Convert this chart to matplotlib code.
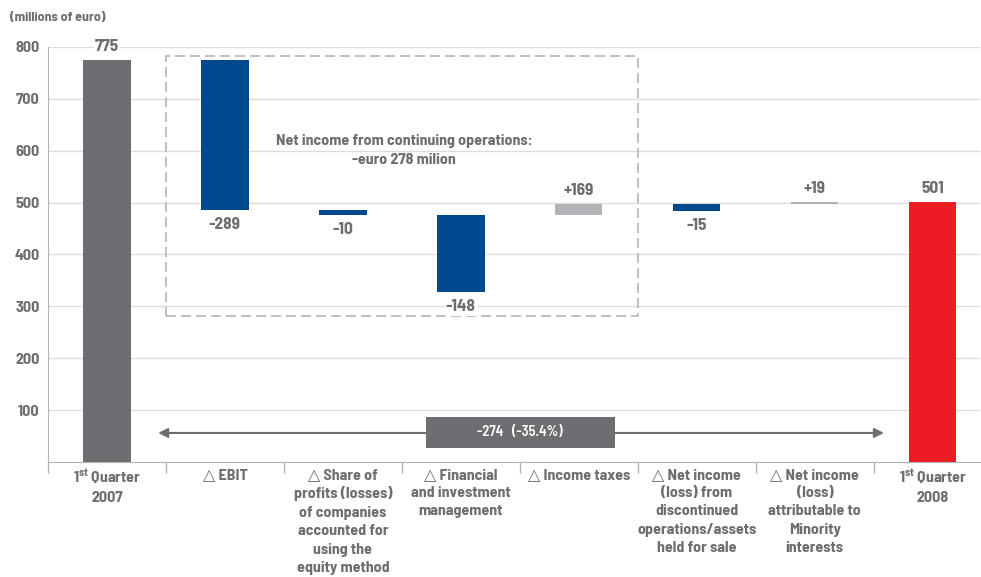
import numpy as np
import matplotlib
matplotlib.use("Agg")
import matplotlib.pyplot as plt
from matplotlib.patches import Rectangle

plt.rcParams['font.family'] = ['Barlow Semi Condensed', 'DejaVu Sans']
plt.rcParams['font.weight'] = 700
plt.rcParams['mathtext.fontset'] = 'custom'
plt.rcParams['mathtext.rm'] = 'Barlow Semi Condensed:weight=700'

GRAY = '#6d6e71'
BLUE = '#00498f'
LIGHT = '#b1b3b6'
RED = '#ed1c24'

# data
categories = ['1$^{\\mathrm{st}}$ Quarter\n2007', '\u25b3 EBIT',
              '\u25b3 Share of\nprofits (losses)\nof companies\naccounted for\nusing the\nequity method',
              '\u25b3 Financial\nand investment\nmanagement', '\u25b3 Income taxes',
              '\u25b3 Net income\n(loss) from\ndiscontinued\noperations/assets\nheld for sale',
              '\u25b3 Net income\n(loss)\nattributable to\nMinority\ninterests',
              '1$^{\\mathrm{st}}$ Quarter\n2008']
bar_low = [0, 486, 476, 327, 476, 484, 497, 0]
bar_high = [775, 775, 486, 476, 497, 497, 501, 501]
value_labels = ['775', '-289', '-10', '-148', '+169', '-15', '+19', '501']
bar_colors = [GRAY, BLUE, BLUE, BLUE, LIGHT, BLUE, LIGHT, RED]
label_above = [True, False, False, False, True, False, True, True]

total_change = '-274   (-35.4%)'
box_note = 'Net income from continuing operations:\n-euro 278 milion'

fig = plt.figure(figsize=(9.81, 5.77), dpi=100)
ax = fig.add_axes([48/981, 115/577, 932/981, 415/577])

x = np.arange(len(categories))
heights = np.array(bar_high) - np.array(bar_low)
ax.bar(x, heights, bottom=bar_low, width=0.4, color=bar_colors, zorder=3)

for i in range(len(x)):
    if label_above[i]:
        ax.annotate(value_labels[i], (x[i], bar_high[i]), xytext=(0, 9.5), textcoords='offset points',
                    ha='center', va='center', fontsize=12.5, color=GRAY, zorder=5,
                    bbox=dict(facecolor='white', edgecolor='none', pad=1))
    else:
        ax.annotate(value_labels[i], (x[i], bar_low[i]), xytext=(0, -10.5), textcoords='offset points',
                    ha='center', va='center', fontsize=12.5, color=GRAY, zorder=5,
                    bbox=dict(facecolor='white', edgecolor='none', pad=1))

# dashed box around continuing operations
ax.add_patch(Rectangle((0.5, 282), 4.0, 501, fill=False, edgecolor='#b5b5b5',
                       linestyle=(0, (6, 3)), linewidth=1.2, zorder=4))
ax.text(2.52, 600, box_note, ha='center', va='center', fontsize=11.5, color=GRAY,
        linespacing=1.45, zorder=5)

# overall change arrow
ax.annotate('', xy=(6.61, 56), xytext=(0.41, 56),
            arrowprops=dict(arrowstyle='<|-|>', color=GRAY, lw=1.5, mutation_scale=14), zorder=4)
ax.add_patch(Rectangle((2.7, 27), 1.61, 60, facecolor=GRAY, edgecolor='none', zorder=5))
ax.text(3.5, 57, total_change, ha='center', va='center', fontsize=10.5, fontweight=600,
        color='white', zorder=6)

ax.set_xlim(-0.5, 7.4)
ax.set_ylim(0, 800)
ax.set_yticks(range(100, 900, 100))
ax.grid(axis='y', color='#dcdcdc', linewidth=1, zorder=0)
ax.tick_params(axis='y', length=0, labelsize=11.5, labelcolor=GRAY, pad=6)
ax.set_xticks(x)
ax.set_xticklabels(categories, fontsize=11.5, color=GRAY, linespacing=1.4)
ax.set_xticks(np.arange(-0.5, 7.5, 1), minor=True)
ax.tick_params(axis='x', which='major', length=0, pad=4)
ax.tick_params(axis='x', which='minor', length=8, color='#b3b3b3', width=1)
for s in ['top', 'right']:
    ax.spines[s].set_visible(False)
for s in ['left', 'bottom']:
    ax.spines[s].set_color('#b3b3b3')

fig.text(10/981, 1 - 18/577, '(millions of euro)', fontsize=10, color=GRAY, va='center')

fig.savefig('out.png', dpi=100)
